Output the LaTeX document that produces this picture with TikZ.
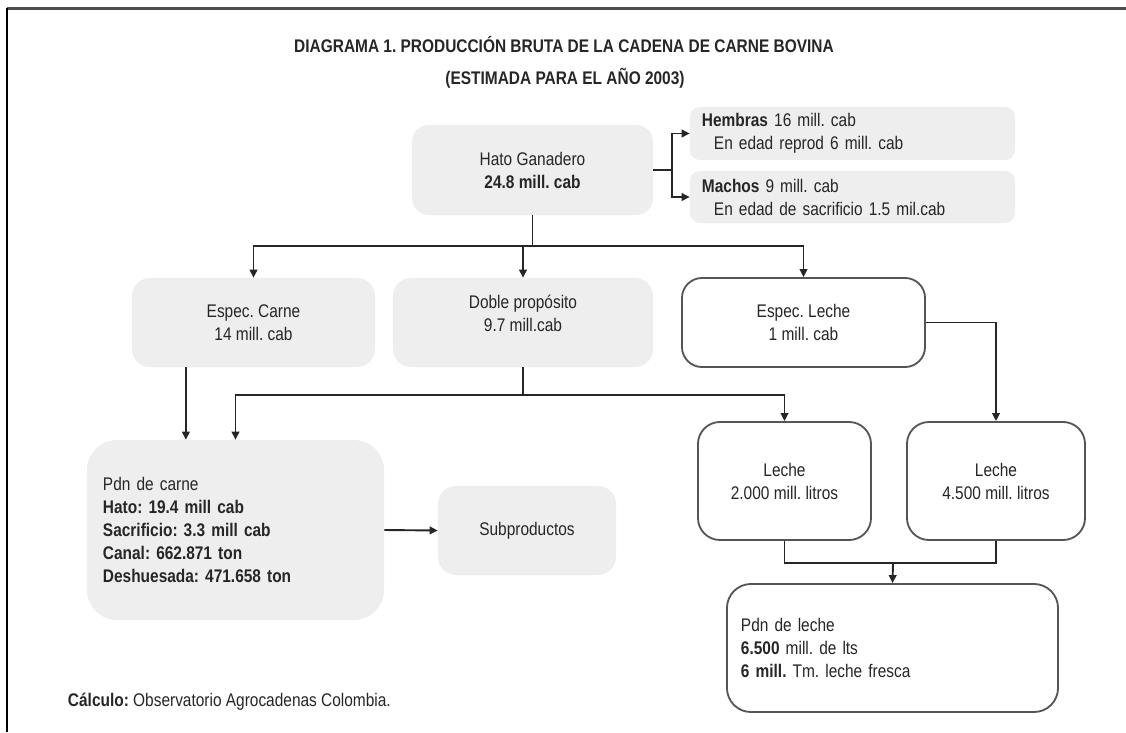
\documentclass[tikz,border=0pt]{standalone}
\usepackage{fontspec}
\setmainfont{Liberation Sans}[FakeStretch=0.845]
\usetikzlibrary{positioning, arrows.meta}

\definecolor{boxgray}{HTML}{EEEEEE}
\definecolor{boxline}{HTML}{555555}
\definecolor{txtgray}{HTML}{262626}
\newcommand{\boxfont}{\fontsize{13}{16.3}\selectfont}
\frenchspacing

\begin{document}
\begin{tikzpicture}[x=0.025cm, y=-0.025cm,
  every node/.style={font=\boxfont, text=txtgray, align=center},
  graybox/.style={fill=boxgray, rounded corners=0.45cm, inner sep=0pt},
  whitebox/.style={draw=boxline, line width=1.3pt, fill=white, rounded corners=0.5cm, inner sep=0pt},
  conn/.style={line width=1.35pt, draw=black!85},
  arr/.style={conn, -{Triangle[length=2mm,width=1.9mm]}}]
\useasboundingbox (0,0) rectangle (1126,732);

% Frame
\draw[line width=2pt, black!70] (7,8.5) -- (1126,8.5);
\draw[line width=1.5pt] (7,8) -- (7,732);

% Title
\node[font=\boxfont\bfseries] (title1) at (564,44) {DIAGRAMA 1. PRODUCCIÓN BRUTA DE LA CADENA DE CARNE BOVINA};
\node[font=\boxfont\bfseries] (title2) at (565,78) {(ESTIMADA PARA EL AÑO 2003)};

% Hato
\node[graybox, rounded corners=0.42cm, minimum width=6.025cm, minimum height=2.25cm] (hato) at (532.5,170)
  {Hato Ganadero\\\textbf{24.8 mill. cab}};
\node[graybox, rounded corners=0.25cm, minimum height=1.325cm, text width=7.525cm, inner xsep=0.3cm, align=left] (hembras) at (852.5,133.5)
  {\textbf{Hembras} 16 mill. cab\\\hspace*{0.3cm}En edad reprod 6 mill. cab};
\node[graybox, rounded corners=0.25cm, minimum height=1.3cm, text width=7.525cm, inner xsep=0.3cm, align=left] (machos) at (852.5,197)
  {\textbf{Machos} 9 mill. cab\\\hspace*{0.3cm}En edad de sacrificio 1.5 mil.cab};

% Tipos de hato
\node[graybox, minimum width=6.075cm, minimum height=2.225cm] (carne) at (253.5,322.5) {Espec. Carne\\14 mill. cab};
\node[graybox, minimum width=6.5cm, minimum height=2.225cm] (doble) at (523,322.5) {};
\node (dobletxt) at (523,313) {Doble propósito\\9.7 mill.cab};
\node[whitebox, minimum width=6.075cm, minimum height=2.225cm] (leche) at (803.5,322.5) {Espec. Leche\\1 mill. cab};

% Produccion
\node[graybox, rounded corners=0.75cm, minimum width=7.425cm, minimum height=4.5cm, text width=6.625cm, inner xsep=0.4cm, align=left] (pdnc) at (235.5,530)
  {Pdn de carne\\\textbf{Hato: 19.4 mill cab}\\\textbf{Sacrificio: 3.3 mill cab}\\\textbf{Canal: 662.871 ton}\\\textbf{Deshuesada: 471.658 ton}};
\node[graybox, minimum width=4.45cm, minimum height=2.225cm] (subp) at (527,530.5) {Subproductos};
\node[whitebox, rounded corners=0.55cm, minimum width=4.325cm, minimum height=2.95cm] (lch1) at (784.5,481) {Leche\\2.000 mill. litros};
\node[whitebox, rounded corners=0.55cm, minimum width=4.45cm, minimum height=2.95cm] (lch2) at (996,481) {Leche\\4.500 mill. litros};
\node[whitebox, rounded corners=0.6cm, minimum height=3.2cm, text width=7.575cm, inner xsep=0.35cm, align=left] (pdnl) at (892.5,648)
  {Pdn de leche\\\textbf{6.500} mill. de lts\\\textbf{6 mill.} Tm. leche fresca};

% Fuente
\node[anchor=west] (fuente) at (63,702) {\textbf{Cálculo:} Observatorio Agrocadenas Colombia.};

% Junctions
\coordinate (fork) at (672,170);
\coordinate (bus1) at (533,246);
\coordinate (bus2) at (523,395);
\coordinate (bus3) at (893,563);
\coordinate (cdrop) at ([xshift=-1.69cm]carne.south);

% Connectors
\draw[conn] (hato.east) -- (fork);
\draw[arr] (fork) |- (hembras.west);
\draw[arr] (fork) |- (machos.west);
\draw[conn] (hato.south) -- (hato.south |- bus1);
\draw[arr] (hato.south |- bus1) -| (carne.north);
\draw[arr] (hato.south |- bus1) -| (leche.north);
\draw[arr] (doble.north |- bus1) -- (doble.north);
\draw[arr] (leche.east) -| (lch2.north);
\draw[arr] (cdrop) -- (cdrop |- pdnc.north);
\draw[conn] (doble.south) -- (doble.south |- bus2);
\draw[arr] (doble.south |- bus2) -| (pdnc.north);
\draw[arr] (doble.south |- bus2) -| (lch1.north);
\draw[arr] (pdnc.east) -- (subp.west);
\draw[conn] (lch1.south) |- (bus3) -| (lch2.south);
\draw[arr] (bus3) -- (pdnl.north);
\end{tikzpicture}
\end{document}
